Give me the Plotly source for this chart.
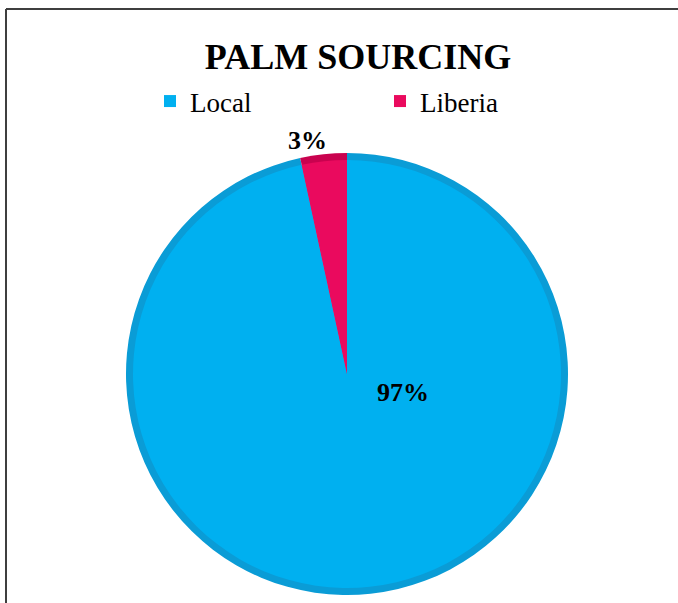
import plotly.graph_objects as go

categories = ["Local", "Liberia"]
values = [96.6, 3.4]
bright_colors = ["#00B0F0", "#EA0A5E"]
rim_colors = ["#0A9CD6", "#C9024F"]
title_text = "PALM SOURCING"

W, H = 678, 603
FONT = "Liberation Serif, Times New Roman, serif"

def px_x(x):
    return x / W

def px_y(y):
    return 1 - y / H

cx, cy, r = 347, 374, 221
inset = 7

fig = go.Figure()
# darker rim (outer)
fig.add_trace(go.Pie(
    labels=categories, values=values, sort=False, direction="clockwise", rotation=0,
    marker=dict(colors=rim_colors, line=dict(width=0)),
    textinfo="none", hoverinfo="skip", showlegend=False,
    domain=dict(x=[px_x(cx - r), px_x(cx + r)], y=[px_y(cy + r), px_y(cy - r)]),
))
# bright face (inner)
fig.add_trace(go.Pie(
    labels=categories, values=values, sort=False, direction="clockwise", rotation=0,
    marker=dict(colors=bright_colors, line=dict(width=0)),
    textinfo="none", showlegend=True,
    domain=dict(x=[px_x(cx - r + inset), px_x(cx + r - inset)],
                y=[px_y(cy + r - inset), px_y(cy - r + inset)]),
))

total = sum(values)
label_pos = {"Local": (403, 392), "Liberia": (307, 140)}
for cat, v in zip(categories, values):
    lx, ly = label_pos[cat]
    fig.add_annotation(
        x=px_x(lx), y=px_y(ly), xref="paper", yref="paper",
        text=f"<b>{round(100 * v / total)}%</b>", showarrow=False,
        font=dict(family=FONT, size=26, color="#000000"),
        xanchor="center", yanchor="middle",
    )

# chart frame (left and top edges)
fig.add_shape(type="line", xref="paper", yref="paper",
              x0=px_x(6), x1=1.01, y0=px_y(9), y1=px_y(9),
              line=dict(color="#3f3f3f", width=2))
fig.add_shape(type="line", xref="paper", yref="paper",
              x0=px_x(6), x1=px_x(6), y0=px_y(9), y1=-0.01,
              line=dict(color="#3f3f3f", width=2))

fig.update_layout(
    width=W, height=H,
    margin=dict(l=0, r=0, t=0, b=0),
    paper_bgcolor="white", plot_bgcolor="white",
    title=dict(text=f"<b>{title_text}</b>", x=px_x(358), xanchor="center",
               y=px_y(56.4), yanchor="middle",
               font=dict(family=FONT, size=36, color="#000000")),
    showlegend=True,
    legend=dict(orientation="h", x=px_x(150), xanchor="left",
                y=px_y(77), yanchor="top",
                font=dict(family=FONT, size=27, color="#000000"),
                entrywidth=185, entrywidthmode="pixels",
                itemwidth=30, traceorder="normal",
                bgcolor="rgba(0,0,0,0)"),
)

fig.write_html("out.html", config={"displayModeBar": False},
               post_script="document.body.style.margin='0';document.body.style.padding='0';")
